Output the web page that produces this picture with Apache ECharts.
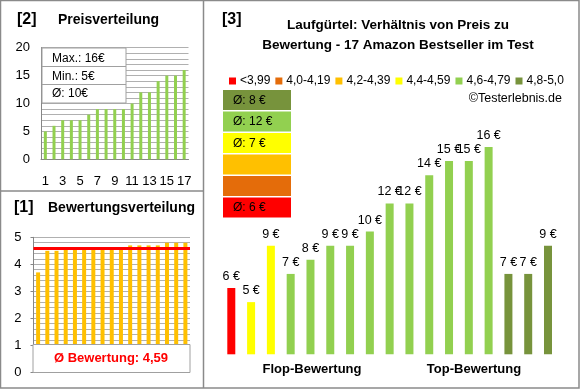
<!DOCTYPE html>
<html><head><meta charset="utf-8">
<script src="https://cdn.jsdelivr.net/npm/echarts@6/dist/echarts.min.js"></script>
<style>html,body{margin:0;padding:0;background:#fff}#c{width:580px;height:390px}</style>
</head><body><div id="c"></div>
<script>
// ---- data ----
const priceCats = ['1','2','3','4','5','6','7','8','9','10','11','12','13','14','15','16','17'];
const pricesSorted = [5,6,7,7,7,8,9,9,9,9,10,12,12,14,15,15,16];
const ratings = [3.7,4.5,4.5,4.6,4.6,4.6,4.6,4.6,4.6,4.6,4.7,4.7,4.7,4.7,4.8,4.8,4.8];
const prices = [6,5,9,7,8,9,9,10,12,12,14,15,15,16,7,7,9];
const groupNames = ['<3,99','4,0-4,19','4,2-4,39','4,4-4,59','4,6-4,79','4,8-5,0'];
const groupColors = ['#FF0000','#E46C0A','#FFC000','#FFFF00','#92D050','#77933C'];
const groupLimits = [4.0,4.2,4.4,4.6,4.8,99];

// ---- derived ----
const FONT = '"Liberation Sans", Arial, sans-serif';
function groupOf(r){for(let g=0;g<groupLimits.length;g++){if(r<groupLimits[g]-1e-9)return g;}return 5;}
const groups = ratings.map(groupOf);
const pMax = Math.max(...pricesSorted), pMin = Math.min(...pricesSorted);
const pAvg = Math.round(pricesSorted.reduce((a,b)=>a+b,0)/pricesSorted.length);
const rAvg = ratings.reduce((a,b)=>a+b,0)/ratings.length;
const rAvgTxt = rAvg.toFixed(2).replace('.',',');
const groupAvg = groupNames.map((n,g)=>{const v=prices.filter((p,i)=>groups[i]===g);return v.length?Math.round(v.reduce((a,b)=>a+b,0)/v.length):null;});

const chart = echarts.init(document.getElementById('c'));
const grayLine = '#b0b0b0', axisGray = '#868686';

const mainSeries = groupNames.map((n,g)=>({
  name:n, type:'bar', xAxisIndex:2, yAxisIndex:2, stack:'m', barWidth:8,
  itemStyle:{color:groupColors[g]},
  label:{show:true, position:'top', distance:5, formatter:'{c} €', color:'#000', fontSize:12.5, fontFamily:FONT},
  data: prices.map((p,i)=>groups[i]===g?p:'-')
}));

const graphics = [];
// borders
graphics.push({type:'rect', z:200, shape:{x:0.5,y:0.5,width:578.5,height:387.5}, style:{fill:'none',stroke:'#8a8a8a',lineWidth:1.5}});
graphics.push({type:'line', z:200, shape:{x1:203.5,y1:0,x2:203.5,y2:388}, style:{stroke:'#8a8a8a',lineWidth:1.5}});
graphics.push({type:'line', z:200, shape:{x1:0,y1:191,x2:203.5,y2:191}, style:{stroke:'#8a8a8a',lineWidth:1.5}});
function txt(x,y,t,size,bold,align,color){return {type:'text', z:210, x:x, y:y, style:{text:t, fill:color||'#000', font:(bold?'bold ':'')+size+'px '+FONT, textAlign:align||'left', textVerticalAlign:'middle'}};}
graphics.push(txt(17,20,'[2]',16,true));
graphics.push(txt(58,20,'Preisverteilung',14,true));
graphics.push(txt(14,208,'[1]',16,true));
graphics.push(txt(48,208,'Bewertungsverteilung',14,true));
graphics.push(txt(222,20,'[3]',16,true));
graphics.push(txt(398,25,'Laufgürtel: Verhältnis von Preis zu',13.5,true,'center'));
graphics.push(txt(398,45,'Bewertung - 17 Amazon Bestseller im Test',13.5,true,'center'));
graphics.push(txt(562,99,'©Testerlebnis.de',12.5,false,'right'));
graphics.push(txt(312,369,'Flop-Bewertung',13,true,'center'));
graphics.push(txt(474,369,'Top-Bewertung',13,true,'center'));
// price info box
graphics.push({type:'rect', z:150, shape:{x:42,y:48,width:84,height:55}, style:{fill:'#fff',stroke:'#a0a0a0',lineWidth:1}});
graphics.push({type:'line', z:151, shape:{x1:42,y1:66.5,x2:126,y2:66.5}, style:{stroke:'#a0a0a0',lineWidth:1}});
graphics.push({type:'line', z:151, shape:{x1:42,y1:84.5,x2:126,y2:84.5}, style:{stroke:'#a0a0a0',lineWidth:1}});
graphics.push(txt(52,58.5,'Max.: '+pMax+'€',12,false));
graphics.push(txt(52,76.5,'Min.: '+pMin+'€',12,false));
graphics.push(txt(52,93.5,'Ø: '+pAvg+'€',12,false));
// rating avg box
graphics.push({type:'rect', z:150, shape:{x:33,y:344.5,width:157,height:28}, style:{fill:'#fff',stroke:'#a0a0a0',lineWidth:1}});
graphics.push(txt(111,358.5,'Ø Bewertung: '+rAvgTxt,13,true,'center','#FF0000'));
// group average boxes (top to bottom: best group first)
for(let k=0;k<6;k++){
  const g=5-k; const y=90+k*21.5;
  graphics.push({type:'rect', z:150, shape:{x:223,y:y,width:68,height:20}, style:{fill:groupColors[g]}});
  if(groupAvg[g]!==null) graphics.push(txt(233,y+10.5,'Ø: '+groupAvg[g]+' €',12,false));
}

chart.setOption({
  animation:false,
  textStyle:{fontFamily:FONT},
  legend:{left:224, top:70, itemWidth:7, itemHeight:7, itemGap:5, icon:'rect',
    textStyle:{fontSize:12, color:'#000', fontFamily:FONT, padding:[0,0,0,-1]}, data:groupNames},
  grid:[
    {left:41, top:47.7, width:147.5, height:111.6},
    {left:33.5, top:237.3, width:156.5, height:135},
    {left:221.4, top:132.9, width:336.5, height:221.4}
  ],
  xAxis:[
    {gridIndex:0, type:'category', data:priceCats,
      axisLine:{show:true, lineStyle:{color:axisGray}}, axisTick:{show:false},
      axisLabel:{interval:1, margin:16, fontSize:13, color:'#000', fontFamily:FONT}},
    {gridIndex:1, type:'category', data:priceCats, axisLine:{show:false}, axisTick:{show:false}, axisLabel:{show:false}},
    {gridIndex:2, type:'category', data:priceCats, show:false}
  ],
  yAxis:[
    {gridIndex:0, type:'value', min:0, max:20, interval:5,
      axisLine:{show:true, lineStyle:{color:axisGray}}, axisTick:{show:false},
      axisLabel:{margin:11, fontSize:13, color:'#000', fontFamily:FONT},
      splitLine:{lineStyle:{color:grayLine}}, minorTick:{show:false, splitNumber:5},
      minorSplitLine:{show:true, lineStyle:{color:grayLine}}},
    {gridIndex:1, type:'value', min:0, max:5, interval:1,
      axisLine:{show:true, lineStyle:{color:axisGray}}, axisTick:{show:true, length:3, lineStyle:{color:axisGray}},
      axisLabel:{margin:12, fontSize:13, color:'#000', fontFamily:FONT},
      splitLine:{lineStyle:{color:grayLine}}, minorTick:{show:false, splitNumber:5},
      minorSplitLine:{show:true, lineStyle:{color:grayLine}}},
    {gridIndex:2, type:'value', min:1.3, max:17, show:false, splitLine:{show:false}}
  ],
  series:[
    {type:'bar', xAxisIndex:0, yAxisIndex:0, barWidth:3, itemStyle:{color:'#92D050'}, data:pricesSorted},
    {type:'bar', xAxisIndex:1, yAxisIndex:1, barWidth:4, itemStyle:{color:'#FFC000'}, data:ratings,
      markLine:{silent:true, symbol:'none', label:{show:false}, lineStyle:{color:'#FF0000', width:3, type:'solid'},
        data:[{yAxis:rAvg}]}},
    ...mainSeries
  ],
  graphic:graphics
});
</script></body></html>
